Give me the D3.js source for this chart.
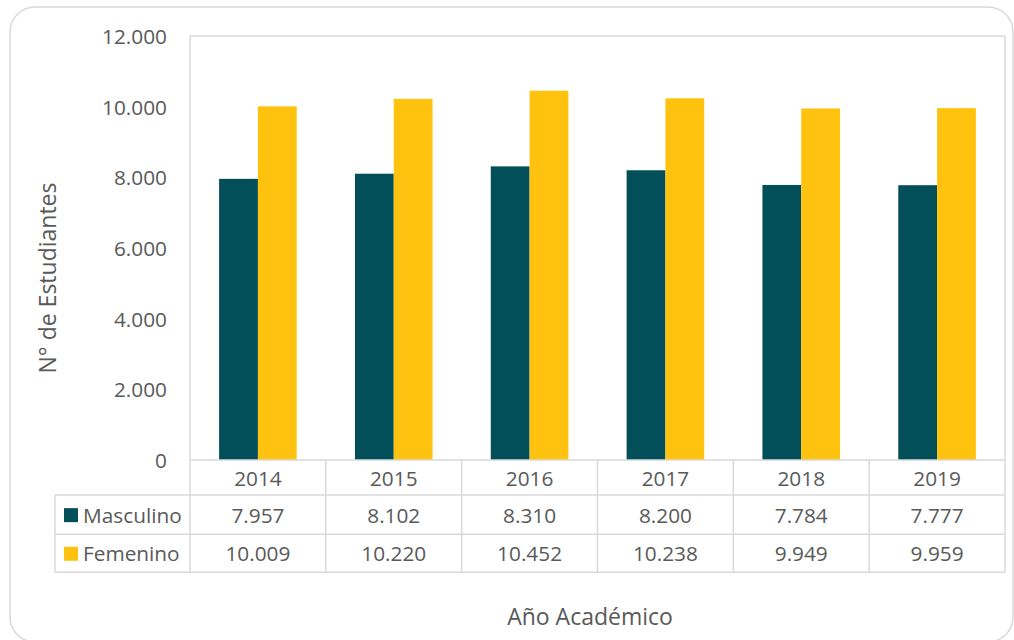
<!DOCTYPE html>
<html>
<head>
<meta charset="utf-8">
<script src="https://cdn.jsdelivr.net/npm/d3@7"></script>
<style>
  html, body { margin: 0; padding: 0; background: #fff; }
  svg { display: block; }
  text { font-family: "Open Sans", "Noto Sans", sans-serif; fill: #595959; }
</style>
</head>
<body>
<svg id="chart" width="1014" height="640"></svg>
<script>
// ---- data ----
const categories = ["2014", "2015", "2016", "2017", "2018", "2019"];
const seriesNames = ["Masculino", "Femenino"];
const masculino = [7957, 8102, 8310, 8200, 7784, 7777];
const femenino = [10009, 10220, 10452, 10238, 9949, 9959];
const yTicks = [0, 2000, 4000, 6000, 8000, 10000, 12000];
const yTitle = "N° de Estudiantes";
const xTitle = "Año Académico";
const colors = ["#024E59", "#FFC20F"];

const seriesValues = [masculino, femenino];

const locale = d3.formatLocale({ decimal: ",", thousands: ".", grouping: [3], currency: ["", "€"] });
const fmt = locale.format(",d");

const svg = d3.select("#chart");
const grid = "#d9d9d9";

// outer rounded frame
svg.append("rect")
  .attr("x", 10).attr("y", 7).attr("width", 1003).attr("height", 635)
  .attr("rx", 25).attr("ry", 25)
  .attr("fill", "#fff").attr("stroke", grid).attr("stroke-width", 1.5);

const pLeft = 190, pRight = 1005, pTop = 36, pBottom = 460;
const rowY = [460, 495, 534.3, 572.3];
const legendLeft = 55;

const x = d3.scaleBand().domain(categories).range([pLeft, pRight]).padding(0);
const xs = d3.scaleBand().domain(seriesNames).range([0, x.bandwidth()]).paddingInner(0).paddingOuter(0.75);
const y = d3.scaleLinear().domain([0, 12000]).range([pBottom, pTop]);

// bars
seriesNames.forEach((name, si) => {
  svg.append("g").selectAll("rect")
    .data(categories.map((c, i) => ({ c, v: seriesValues[si][i] })))
    .join("rect")
    .attr("x", d => x(d.c) + xs(name))
    .attr("y", d => y(d.v))
    .attr("width", xs.bandwidth())
    .attr("height", d => y(0) - y(d.v))
    .attr("fill", colors[si]);
});

// plot area border & table grid
const g = svg.append("g").attr("stroke", grid).attr("stroke-width", 1.5).attr("fill", "none");
g.append("line").attr("x1", pLeft).attr("x2", pRight).attr("y1", pTop).attr("y2", pTop);
g.append("line").attr("x1", pLeft).attr("x2", pLeft).attr("y1", pTop).attr("y2", rowY[3]);
g.append("line").attr("x1", pRight).attr("x2", pRight).attr("y1", pTop).attr("y2", rowY[3]);
g.append("line").attr("x1", pLeft).attr("x2", pRight).attr("y1", rowY[0]).attr("y2", rowY[0]);
[rowY[1], rowY[2], rowY[3]].forEach(yy => {
  g.append("line").attr("x1", legendLeft).attr("x2", pRight).attr("y1", yy).attr("y2", yy);
});
g.append("line").attr("x1", legendLeft).attr("x2", legendLeft).attr("y1", rowY[1]).attr("y2", rowY[3]);
categories.forEach((c, i) => {
  if (i === 0) return;
  g.append("line").attr("x1", x(c)).attr("x2", x(c)).attr("y1", rowY[0]).attr("y2", rowY[3]);
});

// y axis labels
const yAxis = d3.axisLeft(y).tickValues(yTicks).tickFormat(fmt).tickSize(0).tickPadding(0);
const ya = svg.append("g").attr("transform", "translate(167,0)").call(yAxis);
ya.select(".domain").remove();
ya.selectAll("text")
  .attr("font-family", "Open Sans").attr("font-size", 20.8).attr("fill", "#595959").attr("dy", "0.36em");

// category row
svg.append("g").selectAll("text").data(categories).join("text")
  .attr("x", d => x(d) + x.bandwidth() / 2)
  .attr("y", (rowY[0] + rowY[1]) / 2 + 1)
  .attr("dy", "0.36em")
  .attr("text-anchor", "middle")
  .attr("font-size", 20.8)
  .text(d => d);

// series rows
seriesNames.forEach((name, si) => {
  const cy = (rowY[si + 1] + rowY[si + 2]) / 2 + 0.5;
  svg.append("rect").attr("x", 64).attr("y", cy - 7).attr("width", 14).attr("height", 14).attr("fill", colors[si]);
  svg.append("text").attr("x", 83).attr("y", cy).attr("dy", "0.36em").attr("font-size", 20.8).text(name);
  svg.append("g").selectAll("text").data(seriesValues[si]).join("text")
    .attr("x", (d, i) => x(categories[i]) + x.bandwidth() / 2)
    .attr("y", cy)
    .attr("dy", "0.36em")
    .attr("text-anchor", "middle")
    .attr("font-size", 20.8)
    .text(d => fmt(d));
});

// axis titles
svg.append("text")
  .attr("transform", "translate(56,278) rotate(-90)")
  .attr("text-anchor", "middle")
  .attr("font-size", 23)
  .text(yTitle);
svg.append("text")
  .attr("x", 590).attr("y", 625)
  .attr("text-anchor", "middle")
  .attr("font-size", 23)
  .text(xTitle);
</script>
</body>
</html>
